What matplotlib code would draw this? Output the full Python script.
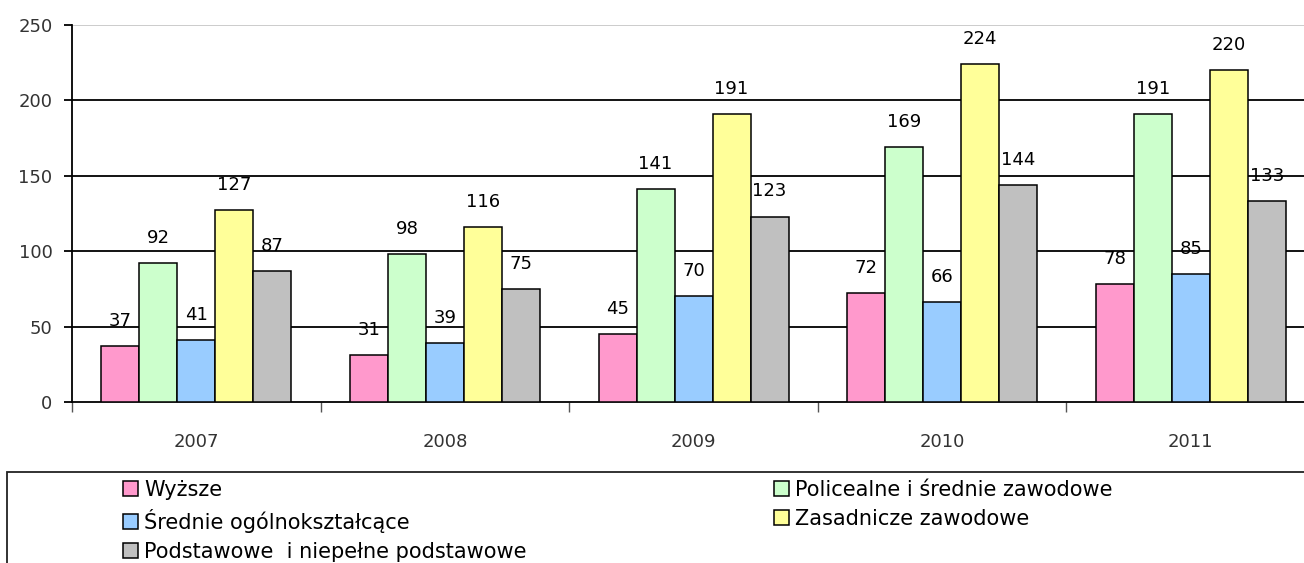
import matplotlib
matplotlib.use("Agg")
import matplotlib.pyplot as plt
import numpy as np
from matplotlib.patches import Rectangle, Patch

years = ["2007", "2008", "2009", "2010", "2011"]
series_names = ["Wyższe", "Policealne i średnie zawodowe", "Średnie ogólnokształcące",
                "Zasadnicze zawodowe", "Podstawowe  i niepełne podstawowe"]
wyzsze = [37, 31, 45, 72, 78]
policealne = [92, 98, 141, 169, 191]
srednie_ogolne = [41, 39, 70, 66, 85]
zasadnicze = [127, 116, 191, 224, 220]
podstawowe = [87, 75, 123, 144, 133]
yticks = [0, 50, 100, 150, 200, 250]

series = [wyzsze, policealne, srednie_ogolne, zasadnicze, podstawowe]
colors = ["#FF99CC", "#CCFFCC", "#99CCFF", "#FFFF99", "#C0C0C0"]

W, H = 1304, 563
fig = plt.figure(figsize=(W / 100, H / 100), dpi=100)
plt.rcParams['font.family'] = ['DejaVu Sans']

def fx(x):
    return x / W

def fy(y):
    return 1 - y / H

ax = fig.add_axes([fx(72), fy(402), (1315 - 72) / W, (402 - 25) / H])
ax.set_xlim(-0.5, 4.5)
ax.set_ylim(0, 250)

x = np.arange(len(years))
bw = 38 / 248.6
for i, (vals, c) in enumerate(zip(series, colors)):
    pos = x + (i - 2) * bw
    ax.bar(pos, vals, width=bw, color=c, edgecolor="black", linewidth=1.1, zorder=3)
    for xi, v in zip(pos, vals):
        ax.annotate(str(v), (xi, v), xytext=(0, 14.5), textcoords="offset points",
                    ha="center", va="baseline", fontsize=13, color="black", zorder=2)

for v in yticks[1:]:
    col = "#C8C8C8" if v == yticks[-1] else "black"
    ax.axhline(v, color=col, linewidth=1.3, zorder=1)

for s in ["top", "right"]:
    ax.spines[s].set_visible(False)
ax.spines["left"].set_linewidth(1.3)
ax.spines["bottom"].set_linewidth(1.3)

ax.set_yticks(yticks)
ax.set_yticklabels([str(v) for v in yticks], fontsize=13, color="#333333")
ax.tick_params(axis="y", direction="out", length=6, width=1.3, pad=8)
ax.set_xticks(x)
ax.set_xticklabels(years, fontsize=13, color="#333333")
ax.set_xticks(np.arange(-0.5, 5, 1), minor=True)
ax.tick_params(axis="x", which="major", length=0, pad=22)
ax.tick_params(axis="x", which="minor", direction="out", length=7, width=1.0, color="#555555")

# legend frame
fig.patches.append(Rectangle((fx(7), fy(600)), fx(1400), (600 - 472) / H,
                             transform=fig.transFigure, fill=False,
                             edgecolor="#222222", linewidth=1.3))

handles = [Patch(facecolor=c, edgecolor="black", linewidth=1.1, label=n)
           for c, n in zip(colors, series_names)]
common = dict(frameon=False, fontsize=15, handlelength=0.7, handleheight=0.7,
              handletextpad=0.33, labelspacing=0.42, borderpad=0, borderaxespad=0,
              loc="upper left")
leg1 = fig.legend([handles[0], handles[2], handles[4]],
                  [series_names[0], series_names[2], series_names[4]],
                  bbox_to_anchor=(fx(123), fy(480)), **common)
leg2 = fig.legend([handles[1], handles[3]], [series_names[1], series_names[3]],
                  bbox_to_anchor=(fx(774), fy(480)), **common)

fig.savefig("out.png", dpi=100)
